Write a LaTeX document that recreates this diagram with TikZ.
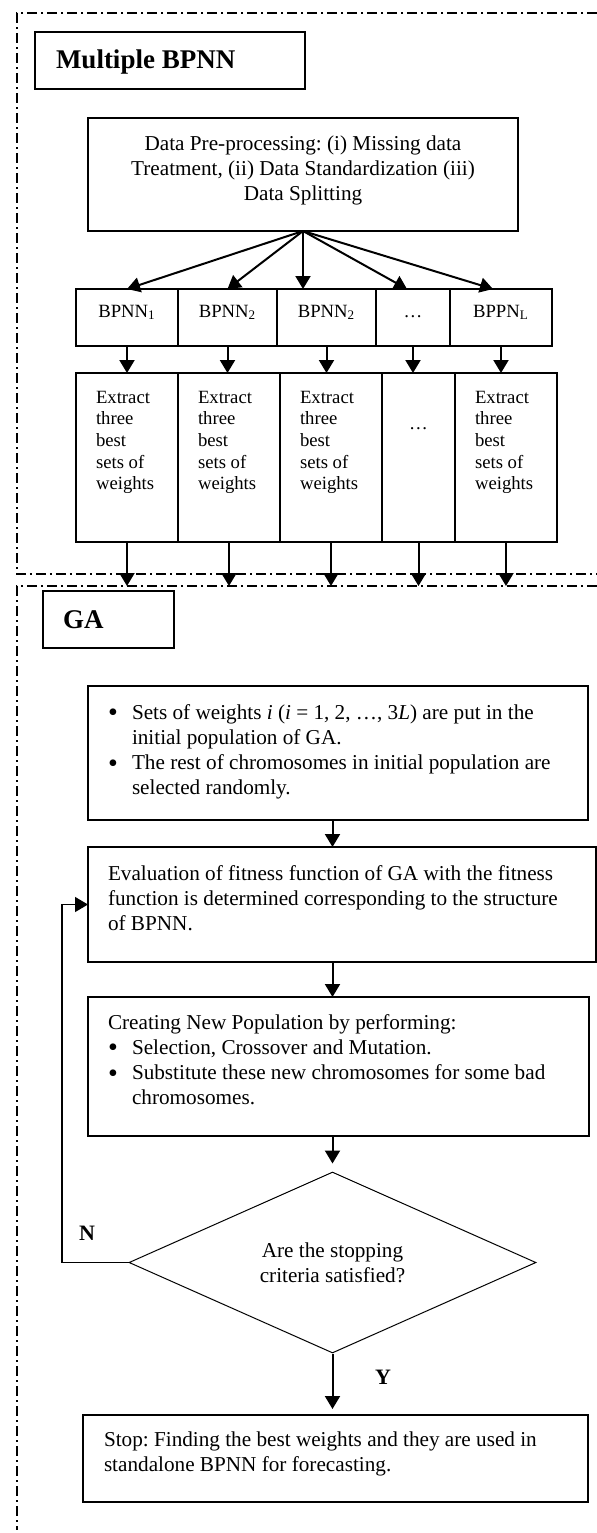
\documentclass[tikz,border=0pt]{standalone}
\usepackage{fontspec}
\setmainfont{Liberation Serif}
\usetikzlibrary{shapes.geometric, arrows.meta, positioning}

\newcommand{\bitem}{\noindent\hangindent=12pt\hangafter=1\makebox[12pt][l]{\raisebox{-1.3pt}{\fontsize{14}{12.6}\selectfont\textbullet}}}

\begin{document}
\frenchspacing
\begin{tikzpicture}[
    x=0.5pt, y=-0.5pt,
    every node/.style={font=\fontsize{10.6}{12.6}\selectfont},
    framebox/.style={line width=0.6pt, dash pattern=on 5pt off 2pt on 1pt off 2pt},
    headbox/.style={rectangle, draw, line width=0.65pt, anchor=north west, inner xsep=10pt, inner ysep=0pt, outer sep=0pt, align=flush left, font=\fontsize{13.5}{16}\selectfont\bfseries},
    procbox/.style={rectangle, draw, line width=0.65pt, anchor=north west, inner xsep=10pt, inner ysep=0pt, outer sep=0pt, align=flush left},
    netbox/.style={rectangle, draw, line width=0.65pt, inner sep=0pt, outer sep=0pt, align=flush center, text height=14pt, text depth=14.5pt, font=\fontsize{9.35}{10.85}\selectfont},
    wbox/.style={rectangle, draw, line width=0.65pt, inner xsep=10pt, inner ysep=0pt, outer sep=0pt, align=flush left, text width=31pt, text height=15pt, text depth=69.5pt, font=\fontsize{9.35}{10.85}\selectfont},
    decision/.style={diamond, draw, line width=0.5pt, inner sep=0pt, aspect=2.25, minimum width=203.5pt, minimum height=90.5pt, align=flush center},
    lbl/.style={font=\fontsize{11}{13}\selectfont\bfseries},
    arrow/.style={-{Triangle[length=6.5pt, width=7.5pt]}, line width=1pt},
    loopline/.style={-{Triangle[length=6.5pt, width=7.5pt]}, line width=0.65pt}
]
\useasboundingbox (0,0) rectangle (597,1533);

% Frames
\draw[framebox] (597,13) -- (17,13) -- (17,574) -- (597,574);
\draw[framebox] (597,586) -- (17,586) -- (17,1530);
\coordinate (gatop) at (17,586);

% Multiple BPNN
\node[headbox, inner xsep=10.5pt, text width=114pt, text height=18pt, text depth=10.5pt] (mtitle) at (35,32) {Multiple BPNN};
\node[procbox, align=flush center, text width=195pt, text height=16pt, text depth=40.5pt] (pre) at (88,118) {Data Pre-processing: (i) Missing data\\Treatment, (ii) Data Standardization (iii)\\Data Splitting};

% Networks
\node[netbox, anchor=north west, text width=51pt] (b1) at (76,289) {BPNN\textsubscript{1}};
\node[netbox, text width=49.5pt, right=0pt of b1] (b2) {BPNN\textsubscript{2}};
\node[netbox, text width=49.5pt, right=0pt of b2] (b3) {BPNN\textsubscript{2}};
\node[netbox, text width=37pt, right=0pt of b3] (b4) {…};
\node[netbox, text width=51pt, right=0pt of b4] (b5) {BPPN\textsubscript{L}};
\coordinate (t4) at (407,289);
\coordinate (t5) at (493,289);

% Weights
\node[wbox, anchor=north west] (e1) at (76,373) {Extract\\three\\best\\sets of\\weights};
\node[wbox, right=0pt of e1] (e2) {Extract\\three\\best\\sets of\\weights};
\node[wbox, right=0pt of e2] (e3) {Extract\\three\\best\\sets of\\weights};
\node[wbox, align=flush center, text width=16.5pt, text height=28pt, text depth=56.5pt, right=0pt of e3] (e4) {…};
\node[wbox, right=0pt of e4] (e5) {Extract\\three\\best\\sets of\\weights};

% GA
\node[headbox, text width=45.5pt, text height=18.5pt, text depth=10pt] (gatitle) at (43,591) {GA};
\node[procbox, text width=230pt, text height=16.5pt, text depth=50.5pt] (init) at (88,686) {\bitem Sets of weights \textit{i} (\textit{i} = 1, 2, …, 3\textit{L}) are put in the\newline initial population of GA.\par\bitem The rest of chromosomes in initial population are\newline selected randomly.\par};
\node[procbox, text width=234pt, text height=16.5pt, text depth=41pt] (eval) at (88,847) {Evaluation of fitness function of GA with the fitness\\function is determined corresponding to the structure\\of BPNN.};
\node[procbox, text width=230.5pt, text height=16pt, text depth=53.5pt] (create) at (88,997) {Creating New Population by performing:\par\bitem Selection, Crossover and Mutation.\par\bitem Substitute these new chromosomes for some bad\newline chromosomes.\par};
\node[decision] (dec) at (332.5,1262.5) {Are the stopping\\criteria satisfied?};
\node[procbox, inner xsep=10.5pt, text width=231.5pt, text height=15.5pt, text depth=28pt] (stop) at (83,1415) {Stop: Finding the best weights and they are used in\\standalone BPNN for forecasting.};

% Labels
\node[lbl] (no) at (87,1233) {N};
\node[lbl] (yes) at (383,1377) {Y};
\coordinate (loopx) at (62,1258);

% Connections
\draw[arrow] (pre.south) -- (b1.north);
\draw[arrow] (pre.south) -- (b2.north);
\draw[arrow] (pre.south) -- (pre.south |- b3.north);
\draw[arrow] (pre.south) -- (t4);
\draw[arrow] (pre.south) -- (t5);
\foreach \i in {1,...,5}{
  \draw[arrow] (b\i.south) -- (b\i.south |- e\i.north);
  \draw[arrow] (e\i.south) -- (e\i.south |- gatop);
}
\draw[arrow] (init.south -| dec.north) -- (eval.north -| dec.north);
\draw[arrow] (eval.south -| dec.north) -- (create.north -| dec.north);
\draw[arrow, shorten >=4pt] (create.south -| dec.north) -- (dec.north);
\draw[arrow, shorten >=3pt] (dec.south) -- (stop.north -| dec.south);
\draw[loopline] (dec.west) -- (dec.west -| loopx) |- (eval.west);

\end{tikzpicture}
\end{document}
